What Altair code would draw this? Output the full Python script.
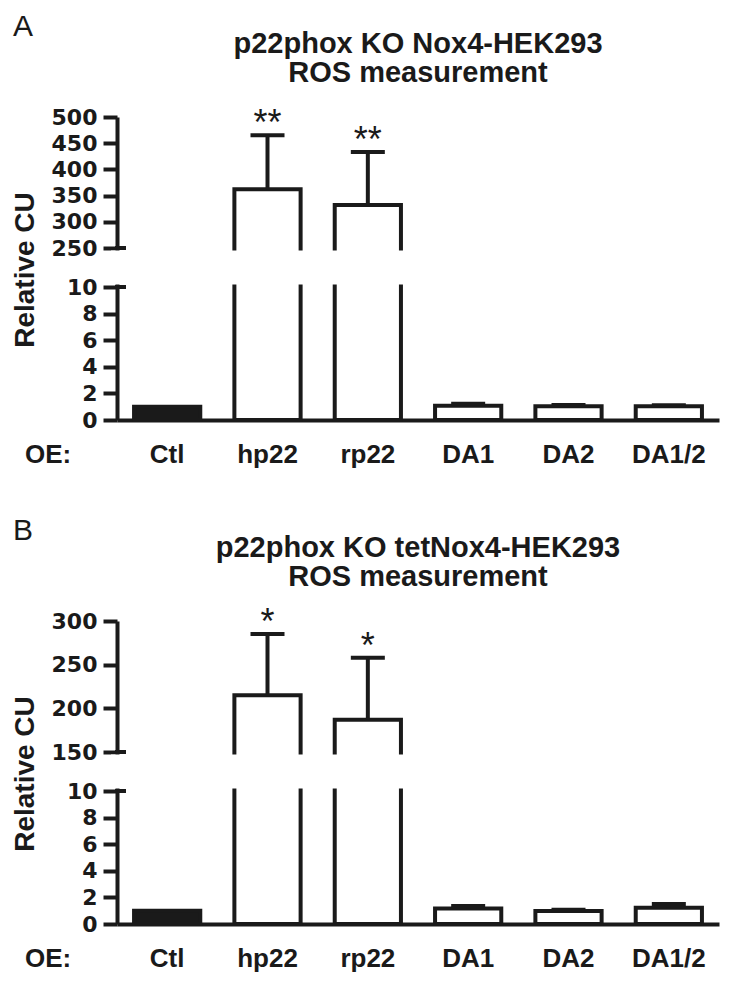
import altair as alt
import pandas as pd

# ---------------- data ----------------
categories = ["Ctl", "hp22", "rp22", "DA1", "DA2", "DA1/2"]

a_mean = [1.0, 362, 332, 1.08, 1.03, 1.03]
a_sem = [0, 103, 101, 0.14, 0.09, 0.07]
a_sig = ["", "**", "**", "", "", ""]
a_breaks = [0, 10, 250, 500]
a_ticks = [0, 2, 4, 6, 8, 10, 250, 300, 350, 400, 450, 500]
a_title = ["p22phox KO Nox4-HEK293", "ROS measurement"]

b_mean = [1.0, 215, 187, 1.16, 0.98, 1.23]
b_sem = [0, 70, 71, 0.20, 0.09, 0.27]
b_sig = ["", "*", "*", "", "", ""]
b_breaks = [0, 10, 150, 300]
b_ticks = [0, 2, 4, 6, 8, 10, 150, 200, 250, 300]
b_title = ["p22phox KO tetNox4-HEK293", "ROS measurement"]

# ---------------- style ----------------
W, H = 602, 303
RANGE = [303, 170, 131, 0]  # piecewise (broken) axis: 0 | 10 | gap | low | high
INK = "#1a1a1a"
SANS = "Liberation Sans, Arial, Helvetica, sans-serif"
TICKFONT = "DejaVu Sans, Liberation Sans, sans-serif"


def panel(letter, title_lines, mean, sem, sig, breaks, ticks):
    df = pd.DataFrame({"cat": categories, "mean": mean, "sem": sem, "sig": sig})
    df["top"] = df["mean"] + df["sem"]

    yscale = alt.Scale(domain=breaks, range=RANGE)
    xscale = alt.Scale(paddingInner=0.34, paddingOuter=0.17)
    x_axis = alt.Axis(
        domainWidth=4, domainColor=INK, ticks=False, labelAngle=0,
        labelFont=SANS, labelFontSize=26, labelFontWeight="bold",
        labelColor=INK, labelPadding=21, labelOverlap=False, labelLimit=0,
    )
    y_axis = alt.Axis(
        values=ticks, grid=False, domainWidth=4, domainColor=INK,
        tickWidth=4, tickSize=14, tickColor=INK,
        labelFont=TICKFONT, labelFontSize=22, labelFontWeight="bold",
        labelColor=INK, labelPadding=6, labelFlush=False, labelOverlap=False,
    )

    def X():
        return alt.X("cat:N", sort=categories, scale=xscale, title=None, axis=x_axis)

    def Y(field):
        return alt.Y(field, scale=yscale, title=None, axis=y_axis)

    base = alt.Chart(df)

    bars = base.mark_bar(stroke=INK, strokeWidth=4, strokeJoin="miter").encode(
        x=X(),
        y=Y("mean:Q"),
        fill=alt.condition(alt.datum.cat == "Ctl", alt.value(INK), alt.value("white")),
    )

    lo, hi = breaks[1], breaks[2]
    pad = (hi - lo) * 0.065
    gap_df = pd.DataFrame({"g0": [lo + pad], "g1": [hi - pad]})
    gap = alt.Chart(gap_df).mark_rect(fill="white").encode(
        x=alt.value(-6), x2=alt.value(W + 6),
        y=Y("g0:Q"), y2="g1:Q",
    )

    ext_df = pd.DataFrame({"v": [lo, hi]})
    ext = alt.Chart(ext_df).mark_rule(color=INK, strokeWidth=4).encode(
        x=alt.value(-2), x2=alt.value(9),
        y=Y("v:Q"),
    )

    err_base = base.transform_filter(alt.datum.sem > 0)
    err = err_base.mark_rule(color=INK, strokeWidth=4).encode(
        x=X(), y=Y("mean:Q"), y2="top:Q",
    )
    cap = err_base.mark_tick(color=INK, size=34, thickness=4, opacity=1).encode(
        x=X(), y=Y("top:Q"),
    )

    stars = base.transform_filter(alt.datum.sig != "").mark_text(
        font=SANS, fontSize=36, baseline="alphabetic", dy=0, color=INK,
    ).encode(x=X(), y=Y("top:Q"), text="sig:N")

    one = pd.DataFrame({"k": [0]})
    letter_t = alt.Chart(one).mark_text(
        font=SANS, fontSize=30, align="left", baseline="alphabetic", color=INK,
    ).encode(x=alt.value(-104), y=alt.value(-81), text=alt.value(letter))

    title_t = alt.Chart(one).mark_text(
        font=SANS, fontSize=29, fontWeight="bold", align="center",
        baseline="alphabetic", lineHeight=29, color=INK,
    ).encode(x=alt.value(W / 2), y=alt.value(-64), text=alt.value(title_lines))

    ytitle = alt.Chart(one).mark_text(
        font=SANS, fontSize=28, fontWeight="bold", align="center",
        baseline="middle", angle=270, color=INK,
    ).encode(x=alt.value(-91), y=alt.value(153), text=alt.value("Relative CU"))

    oe = alt.Chart(one).mark_text(
        font=SANS, fontSize=26, fontWeight="bold", align="left",
        baseline="alphabetic", color=INK,
    ).encode(x=alt.value(-92), y=alt.value(H + 43), text=alt.value("OE:"))

    return alt.layer(
        bars, gap, ext, err, cap, stars, letter_t, title_t, ytitle, oe
    ).properties(width=W, height=H)


pa = panel("A", a_title, a_mean, a_sem, a_sig, a_breaks, a_ticks)
pb = panel("B", b_title, b_mean, b_sem, b_sig, b_breaks, b_ticks)

chart = (
    alt.vconcat(pa, pb, spacing=48)
    .resolve_scale(x="independent", y="independent")
    .properties(padding={"left": 4, "top": 4, "right": 5, "bottom": 5})
    .configure_view(stroke=None)
)

chart.save("out.html", embed_options={"renderer": "svg", "actions": False})
